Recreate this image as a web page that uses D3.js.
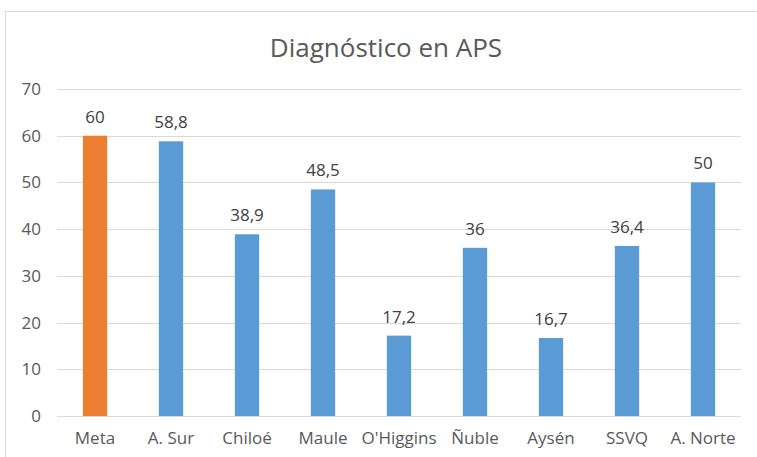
<!DOCTYPE html>
<html>
<head>
<meta charset="utf-8">
<script src="https://cdn.jsdelivr.net/npm/d3@7"></script>
<style>
  body { margin: 0; background: #fff; }
  svg text { font-family: "Open Sans", sans-serif; }
</style>
</head>
<body>
<div id="chart"></div>
<script>
const categories = ["Meta", "A. Sur", "Chiloé", "Maule", "O'Higgins", "Ñuble", "Aysén", "SSVQ", "A. Norte"];
const values = [60, 58.8, 38.9, 48.5, 17.2, 36, 16.7, 36.4, 50];
const yTicks = [0, 10, 20, 30, 40, 50, 60, 70];
const title = "Diagnóstico en APS";

(function() {
    const width = 757, height = 457;
    const margin = { top: 89, right: 16, bottom: 41, left: 57 };
    const innerW = width - margin.left - margin.right;
    const innerH = height - margin.top - margin.bottom;
    const font = '"Open Sans", sans-serif';

    const svg = d3.select('#chart').append('svg')
        .attr('width', width)
        .attr('height', height);

    // chart frame
    svg.append('rect')
        .attr('x', 5.5).attr('y', 11.5)
        .attr('width', 800).attr('height', 500)
        .attr('fill', 'none')
        .attr('stroke', '#d9d9d9');

    svg.append('text')
        .attr('x', 386).attr('y', 57)
        .attr('text-anchor', 'middle')
        .attr('fill', '#595959')
        .attr('font-size', '26px')
        .text(title);

    const g = svg.append('g')
        .attr('transform', `translate(${margin.left},${margin.top})`);

    const x = d3.scaleBand().domain(categories).range([0, innerW]).paddingInner(0.68).paddingOuter(0.34);
    const y = d3.scaleLinear().domain([0, 70]).range([innerH, 0]);

    // gridlines
    g.selectAll('.grid').data(yTicks).enter().append('line')
        .attr('x1', 0).attr('x2', innerW)
        .attr('y1', d => Math.round(y(d)) + 0.5).attr('y2', d => Math.round(y(d)) + 0.5)
        .attr('stroke', '#d9d9d9');

    // y axis labels
    const yAxis = d3.axisLeft(y).tickValues(yTicks).tickSize(0).tickPadding(16);
    g.append('g').call(yAxis)
        .call(a => a.select('.domain').remove())
        .selectAll('text')
        .attr('fill', '#595959')
        .attr('font-size', '17px')
        .attr('font-family', font);

    // bars
    g.selectAll('.bar').data(values).enter().append('rect')
        .attr('x', (d, i) => x(categories[i]))
        .attr('y', d => y(d))
        .attr('width', x.bandwidth())
        .attr('height', d => innerH - y(d))
        .attr('fill', (d, i) => i === 0 ? '#ed7d31' : '#5b9bd5');

    // value labels
    g.selectAll('.lbl').data(values).enter().append('text')
        .attr('x', (d, i) => x(categories[i]) + x.bandwidth() / 2)
        .attr('y', d => y(d) - 13)
        .attr('text-anchor', 'middle')
        .attr('fill', '#404040')
        .attr('font-size', '17px')
        .text(d => String(d).replace('.', ','));

    // x axis labels
    const xAxis = d3.axisBottom(x).tickSize(0).tickPadding(16);
    g.append('g').attr('transform', `translate(0,${innerH})`).call(xAxis)
        .call(a => a.select('.domain').remove())
        .selectAll('text')
        .attr('fill', '#595959')
        .attr('font-size', '17px')
        .attr('font-family', font);
})();
</script>
</body>
</html>
